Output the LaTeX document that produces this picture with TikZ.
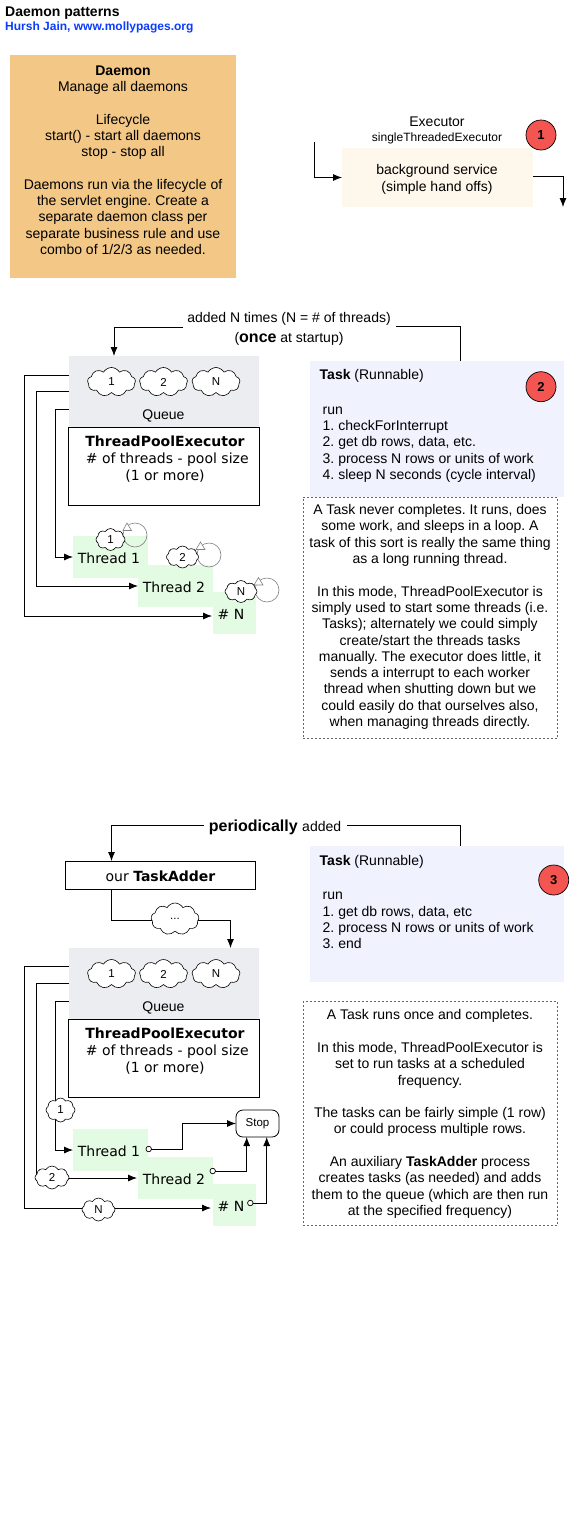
\documentclass[tikz,border=0pt]{standalone}
\usepackage{fontspec}
\setmainfont{Liberation Sans}
\newfontfamily\verd{DejaVu Sans}
\usetikzlibrary{shapes.symbols,arrows.meta}
\definecolor{daemonc}{HTML}{F3C785}
\definecolor{execc}{HTML}{FEF8EC}
\definecolor{queuec}{HTML}{ECEDF1}
\definecolor{taskc}{HTML}{F0F2FE}
\definecolor{greenc}{HTML}{E3FBE3}
\definecolor{redc}{HTML}{F55550}
\definecolor{bluec}{HTML}{0A3CFF}
\tikzset{
  x=1pt,y=-1pt,
  fillbox/.style={draw=none,inner sep=0,outer sep=0,rectangle},
  txt/.style={inner sep=0,outer sep=0,align=center,font=\fontsize{14}{16.3}\selectfont\frenchspacing},
  ltxt/.style={inner sep=0,outer sep=0,align=left,anchor=west,font=\fontsize{14}{16.3}\selectfont\frenchspacing},
  vtxt/.style={inner sep=0,outer sep=0,align=center,font=\verd\fontsize{14}{17}\selectfont},
  outlinebox/.style={draw=black,line width=0.8pt,fill=white,inner sep=0,outer sep=0,rectangle},
  dashbox/.style={draw=black!60,line width=0.6pt,dash pattern=on 2pt off 2pt,inner sep=0,outer sep=0,rectangle},
  badge/.style={circle,draw=black,line width=0.7pt,fill=redc,minimum size=30pt,inner sep=0,outer sep=0,font=\bfseries\fontsize{13}{13}\selectfont},
  wire/.style={draw=black,line width=0.8pt},
  arrowed/.style={wire,-{Latex[length=9pt,width=7pt]}},
  puff/.style={cloud,cloud puffs=9,cloud puff arc=120,aspect=1.7,draw=black,line width=0.6pt,fill=white,inner sep=0,outer sep=0,
     font=\fontsize{11.5}{12}\selectfont},
  bigpuff/.style={puff,minimum width=48pt,minimum height=29pt},
  smallpuff/.style={puff,cloud puffs=8,minimum width=32pt,minimum height=22pt},
  spin/.style={circle,draw=black!50,line width=0.6pt,minimum size=24pt,inner sep=0,outer sep=0},
  tip/.style={draw=black!50,fill=white,line width=0.6pt,line join=miter},
  opendot/.style={circle,draw=black,line width=0.7pt,fill=white,minimum size=5.5pt,inner sep=0,outer sep=0},
}
\begin{document}
\begin{tikzpicture}
\useasboundingbox[fill=white] (0,0) rectangle (587,1535);
% header
\node[inner sep=0,anchor=west,font=\bfseries\fontsize{14}{14}\selectfont] (title) at (5,13) {Daemon patterns};
\node[inner sep=0,anchor=west,text=bluec,font=\bfseries\fontsize{12}{12}\selectfont] (author) at (5,27) {Hursh Jain, www.mollypages.org};
% daemon
\node[fillbox,fill=daemonc,minimum width=226pt,minimum height=223pt] (daemon) at (123,166.5) {};
\node[txt] (daemontext) at (123,160) {\textbf{Daemon}\\Manage all daemons\\[16.3pt]Lifecycle\\start() - start all daemons\\stop - stop all\\[16.3pt]Daemons run via the lifecycle of\\the servlet engine. Create a\\separate daemon class per\\separate business rule and use\\combo of 1/2/3 as needed.};
% executor
\node[fillbox,fill=execc,minimum width=191pt,minimum height=59pt] (exec) at (437.5,177.5) {};
\node[txt] (execname) at (437,122) {Executor};
\node[txt,font=\fontsize{12}{12}\selectfont] (execkind) at (437,138) {singleThreadedExecutor};
\node[txt] (exectext) at (437,179.5) {background service\\(simple hand offs)};
\node[badge] (b1) at (541,135) {1};
\coordinate (ein) at (314,142);
\coordinate (eout) at (533,176);
\coordinate (eend) at (563,207);
\draw[arrowed] (ein) |- (exec.west);
\draw[arrowed] (eout) -| (eend);
% section 2 task
\node[fillbox,fill=taskc,minimum width=254pt,minimum height=136pt] (task2) at (437,429) {};
\node[ltxt] (task2head) at (319.7,376) {\textbf{Task} (Runnable)};
\node[ltxt] (task2body) at (322.7,444.5) {run\\1. checkForInterrupt\\2. get db rows, data, etc.\\3. process N rows or units of work\\4. sleep N seconds (cycle interval)};
\node[badge] (b2) at (541,386.7) {2};
\node[dashbox,minimum width=254.7pt,minimum height=241pt] (note2) at (430.3,617.5) {};
\node[txt] (note2text) at (430,617) {A Task never completes. It runs, does\\some work, and sleeps in a loop. A\\task of this sort is really the same thing\\as a long running thread.\\[16.3pt]In this mode, ThreadPoolExecutor is\\simply used to start some threads (i.e.\\Tasks); alternately we could simply\\create/start the threads tasks\\manually. The executor does little, it\\sends a interrupt to each worker\\thread when shutting down but we\\could easily do that ourselves also,\\when managing threads directly.};
\node[txt] (added) at (289,329) {added N times (N = \# of threads)\\[3.5pt](\textbf{\fontsize{16}{16}\selectfont once} at startup)};
\coordinate (a2r) at (396,326.3);
\coordinate (a2l) at (183,327);
\coordinate (a2t) at (114,356);
\draw[wire] (a2r) -| (460.7,361);
\draw[arrowed] (a2l) -| (a2t);
% section 2 queue
\node[fillbox,fill=queuec,minimum width=190pt,minimum height=71pt] (queue2) at (164,391.5) {};
\node[outlinebox,minimum width=191.5pt,minimum height=78pt] (tpe2) at (164,466) {};
\node[bigpuff] (c21) at (111.5,382) {1};
\node[bigpuff] (c22) at (163.5,382) {2};
\node[bigpuff] (cn2) at (216,382) {N};
\node[txt] (q2label) at (163.5,415.5) {Queue};
\node[vtxt] (tpe2text) at (165,459) {\textbf{ThreadPoolExecutor}\\\ \# of threads - pool size\\(1 or more)};
\node[fillbox,fill=greenc,minimum width=75pt,minimum height=42pt] (t21) at (110.5,557) {};
\node[fillbox,fill=greenc,minimum width=75pt,minimum height=42pt] (t22) at (175.5,586) {};
\node[fillbox,fill=greenc,minimum width=43pt,minimum height=42pt] (t23) at (234.5,613) {};
\node[vtxt] (t21l) at (109,558) {Thread 1};
\node[vtxt] (t22l) at (174,587) {Thread 2};
\node[vtxt] (t23l) at (231,614) {\# N};
\node[spin] (s21) at (135,535) {};
\node[spin] (s22) at (209,555) {};
\node[spin] (s23) at (267,590) {};
\draw[tip] (123,530.5) -- (127,523) -- (131.5,530.5) -- cycle;
\draw[tip] (196,549.5) -- (200.5,542) -- (205,549.5) -- cycle;
\draw[tip] (254,585) -- (258.5,577.5) -- (263,585) -- cycle;
\node[smallpuff,minimum width=29pt] (m21) at (110.5,539.5) {1};
\node[smallpuff] (m22) at (182.5,557) {2};
\node[smallpuff] (m23) at (241,591.5) {N};
\coordinate (q21) at (69,375);
\coordinate (q22) at (69,391.7);
\coordinate (q23) at (69,409);
\coordinate (e23) at (212,616);
\draw[arrowed] (q21) -- (24.7,375) |- (e23);
\draw[arrowed] (q22) -- (36,391.7) |- (t22.west);
\draw[arrowed] (q23) -- (55,409) |- (t21.west);
% section 3 task
\node[fillbox,fill=taskc,minimum width=254pt,minimum height=136pt] (task3) at (437,914) {};
\node[ltxt] (task3head) at (319.7,862) {\textbf{Task} (Runnable)};
\node[ltxt] (task3body) at (322.7,920.5) {run\\1. get db rows, data, etc\\2. process N rows or units of work\\3. end};
\node[badge] (b3) at (553.7,880) {3};
\node[dashbox,minimum width=254.7pt,minimum height=223.5pt] (note3) at (430.3,1113.5) {};
\node[txt] (note3text) at (430,1114) {A Task runs once and completes.\\[16.3pt]In this mode, ThreadPoolExecutor is\\set to run tasks at a scheduled\\frequency.\\[16.3pt]The tasks can be fairly simple (1 row)\\or could process multiple rows.\\[16.3pt]An auxiliary \textbf{TaskAdder} process\\creates tasks (as needed) and adds\\them to the queue (which are then run\\at the specified frequency)};
\node[txt] (periodic) at (275,827) {\fontsize{16}{16}\selectfont\textbf{periodically} \fontsize{14}{16}\selectfont added};
\coordinate (a3r) at (347,825);
\coordinate (a3l) at (204,825);
\draw[wire] (a3r) -| (460.7,846);
\node[outlinebox,minimum width=190.5pt,minimum height=28pt] (adder) at (160.5,875) {};
\node[vtxt] (addertext) at (160.5,876) {our \textbf{TaskAdder}};
\draw[arrowed] (a3l) -| (111.5,861);
% section 3 queue
\node[fillbox,fill=queuec,minimum width=190pt,minimum height=71pt] (queue3) at (164,983.5) {};
\node[outlinebox,minimum width=191.5pt,minimum height=78pt] (tpe3) at (164,1058) {};
\coordinate (ad1) at (111.5,889);
\coordinate (ad2) at (230.5,948);
\draw[arrowed] (ad1) |- (230.5,920) -- (ad2);
\node[puff,minimum width=48pt,minimum height=32pt] (dots) at (175,919) {...};
\node[bigpuff] (c31) at (111.5,974) {1};
\node[bigpuff] (c32) at (163.5,974) {2};
\node[bigpuff] (cn3) at (216,974) {N};
\node[txt] (q3label) at (163.5,1007.5) {Queue};
\node[vtxt] (tpe3text) at (165,1051) {\textbf{ThreadPoolExecutor}\\\ \# of threads - pool size\\(1 or more)};
\node[fillbox,fill=greenc,minimum width=75pt,minimum height=42pt] (t31) at (110.5,1150) {};
\node[fillbox,fill=greenc,minimum width=75pt,minimum height=42pt] (t32) at (175.5,1177.5) {};
\node[fillbox,fill=greenc,minimum width=43pt,minimum height=42pt] (t33) at (234.5,1205) {};
\node[vtxt] (t31l) at (109,1151) {Thread 1};
\node[vtxt] (t32l) at (174,1179) {Thread 2};
\node[vtxt] (t33l) at (231,1206) {\# N};
\coordinate (q31) at (69,966);
\coordinate (q32) at (69,983);
\coordinate (q33) at (69,1001);
\coordinate (e33) at (211,1208);
\coordinate (e32) at (137,1178);
\draw[arrowed] (q31) -- (24.7,966) |- (e33);
\draw[arrowed] (q32) -- (36,983) |- (e32);
\draw[arrowed] (q33) -- (55,1001) |- (t31.west);
\node[smallpuff,minimum width=29pt,minimum height=24pt] (r1) at (60.5,1110) {1};
\node[smallpuff,minimum width=34pt,minimum height=23pt] (r2) at (52,1177.5) {2};
\node[smallpuff,minimum width=33pt,minimum height=23pt] (rn) at (98.5,1209.5) {N};
\node[draw=black,line width=0.8pt,fill=white,rounded corners=7pt,minimum width=43pt,minimum height=27pt,inner sep=0,outer sep=0,font=\fontsize{11.5}{12}\selectfont] (stop) at (257.5,1123.5) {Stop};
\node[opendot] (d1) at (148.7,1149) {};
\node[opendot] (d2) at (212.7,1171) {};
\node[opendot] (d3) at (250.3,1203) {};
\draw[arrowed] (d1) -- (182.7,1149) |- (stop.west);
\draw[arrowed] (d2) -| (246.7,1137);
\draw[arrowed] (d3) -| (266.7,1137);
\end{tikzpicture}
\end{document}
